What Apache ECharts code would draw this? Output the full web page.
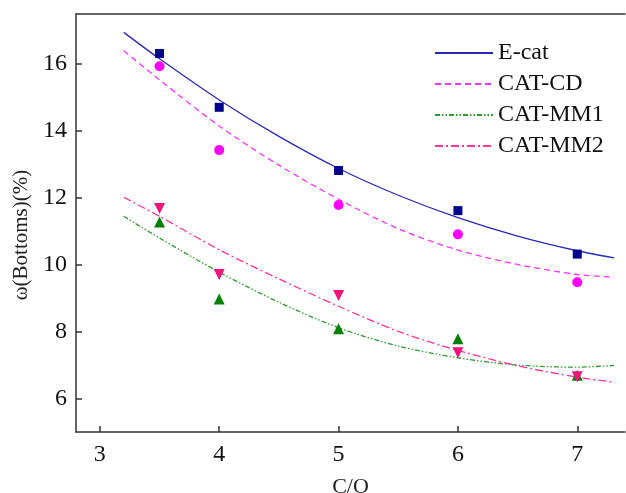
<!DOCTYPE html>
<html>
<head>
<meta charset="utf-8">
<script src="https://cdn.jsdelivr.net/npm/echarts@6/dist/echarts.min.js"></script>
<style>
  html, body { margin: 0; padding: 0; background: #fff; }
  #chart { width: 626px; height: 493px; }
</style>
</head>
<body>
<div id="chart"></div>
<script>
// measured points
const coRatio = [3.5, 4, 5, 6, 7]
const ecatPts = [16.32, 14.71, 12.82, 11.62, 10.32]
const cdPts = [15.94, 13.43, 11.79, 10.91, 9.48]
const mm1Pts = [11.28, 8.98, 8.09, 7.79, 6.70]
const mm2Pts = [11.68, 9.71, 9.08, 7.37, 6.65]

// fitted curves
const fitX = [3.2, 3.5, 4, 4.5, 5, 5.5, 6, 6.5, 7, 7.31]
const ecatFit = [16.95, 16.16, 14.93, 13.84, 12.88, 12.08, 11.41, 10.86, 10.42, 10.21]
const cdFit = [16.40, 15.53, 14.15, 12.98, 11.96, 11.08, 10.44, 10.01, 9.71, 9.63]
const mm1Fit = [11.45, 10.80, 9.78, 8.88, 8.12, 7.57, 7.22, 7.00, 6.94, 6.99]
const mm2Fit = [12.02, 11.45, 10.45, 9.58, 8.76, 8.01, 7.44, 6.98, 6.64, 6.49]

const xTicks = [3, 4, 5, 6, 7]
const yTicks = [6, 8, 10, 12, 14, 16]

const font = '"Liberation Serif", "Times New Roman", serif'
const axisColor = '#333'

function pairs(xs, ys) {
    return xs.map((x, i) => [x, ys[i]])
}

function fitLine(name, ys, color, dash) {
    return {
        name: name,
        type: 'line',
        smooth: 0.3,
        symbol: 'none',
        z: 2,
        lineStyle: { color: color, width: 1.3, type: dash },
        itemStyle: { color: color },
        data: pairs(fitX, ys)
    }
}

function dots(name, ys, color, symbol, size, rotate) {
    return {
        name: name,
        type: 'scatter',
        symbol: symbol,
        symbolSize: size,
        symbolRotate: rotate || 0,
        z: 3,
        itemStyle: { color: color, opacity: 1 },
        data: pairs(coRatio, ys)
    }
}

const chart = echarts.init(document.getElementById('chart'))
chart.setOption({
    animation: false,
    backgroundColor: '#fff',
    grid: { left: 76, right: 1, top: 14, bottom: 61, outerBoundsMode: 'none', containLabel: false },
    legend: {
        orient: 'vertical',
        left: 429,
        top: 36,
        itemWidth: 58,
        itemHeight: 14,
        itemGap: 7,
        data: ['E-cat', 'CAT-CD', 'CAT-MM1', 'CAT-MM2'],
        itemStyle: { opacity: 0 },
        textStyle: { fontFamily: font, fontSize: 24, color: '#111' }
    },
    xAxis: [{
        type: 'value',
        min: 2.8,
        max: 7.4,
        name: 'C/O',
        nameLocation: 'middle',
        nameGap: 44,
        nameTextStyle: { fontFamily: font, fontSize: 22, color: '#222' },
        axisLine: { lineStyle: { color: axisColor, width: 1.5 } },
        axisTick: { inside: true, length: 6, customValues: xTicks, lineStyle: { color: axisColor, width: 1.5 } },
        axisLabel: { customValues: xTicks, margin: 11, fontFamily: font, fontSize: 24, color: '#111' },
        splitLine: { show: false }
    }, {
        type: 'value',
        position: 'top',
        min: 2.8,
        max: 7.4,
        axisLine: { show: true, lineStyle: { color: axisColor, width: 1.5 } },
        axisTick: { show: false },
        axisLabel: { show: false },
        splitLine: { show: false }
    }],
    yAxis: {
        type: 'value',
        min: 5,
        max: 17.5,
        name: 'ω(Bottoms)(%)',
        nameLocation: 'middle',
        nameGap: 40,
        nameTextStyle: { fontFamily: font, fontSize: 21, color: '#222', padding: [0, 0, 0, -24] },
        axisLine: { show: true, lineStyle: { color: axisColor, width: 1.5 } },
        axisTick: { inside: true, length: 6, customValues: yTicks, lineStyle: { color: axisColor, width: 1.5 } },
        axisLabel: { customValues: yTicks, margin: 9, fontFamily: font, fontSize: 24, color: '#111' },
        splitLine: { show: false }
    },
    series: [
        fitLine('E-cat', ecatFit, '#2a2ab0', 'solid'),
        fitLine('CAT-CD', cdFit, '#ff33ff', [6, 4]),
        fitLine('CAT-MM1', mm1Fit, '#2e9a2e', [5, 2, 1.5, 2, 1.5, 2]),
        fitLine('CAT-MM2', mm2Fit, '#ff3399', [8, 3, 2, 3]),
        dots('E-cat pts', ecatPts, '#00008b', 'rect', 9),
        dots('CAT-CD pts', cdPts, '#ff00ff', 'circle', 10),
        dots('CAT-MM1 pts', mm1Pts, '#008000', 'triangle', 11),
        dots('CAT-MM2 pts', mm2Pts, '#f0147a', 'triangle', 11, 180)
    ]
})
</script>
</body>
</html>
